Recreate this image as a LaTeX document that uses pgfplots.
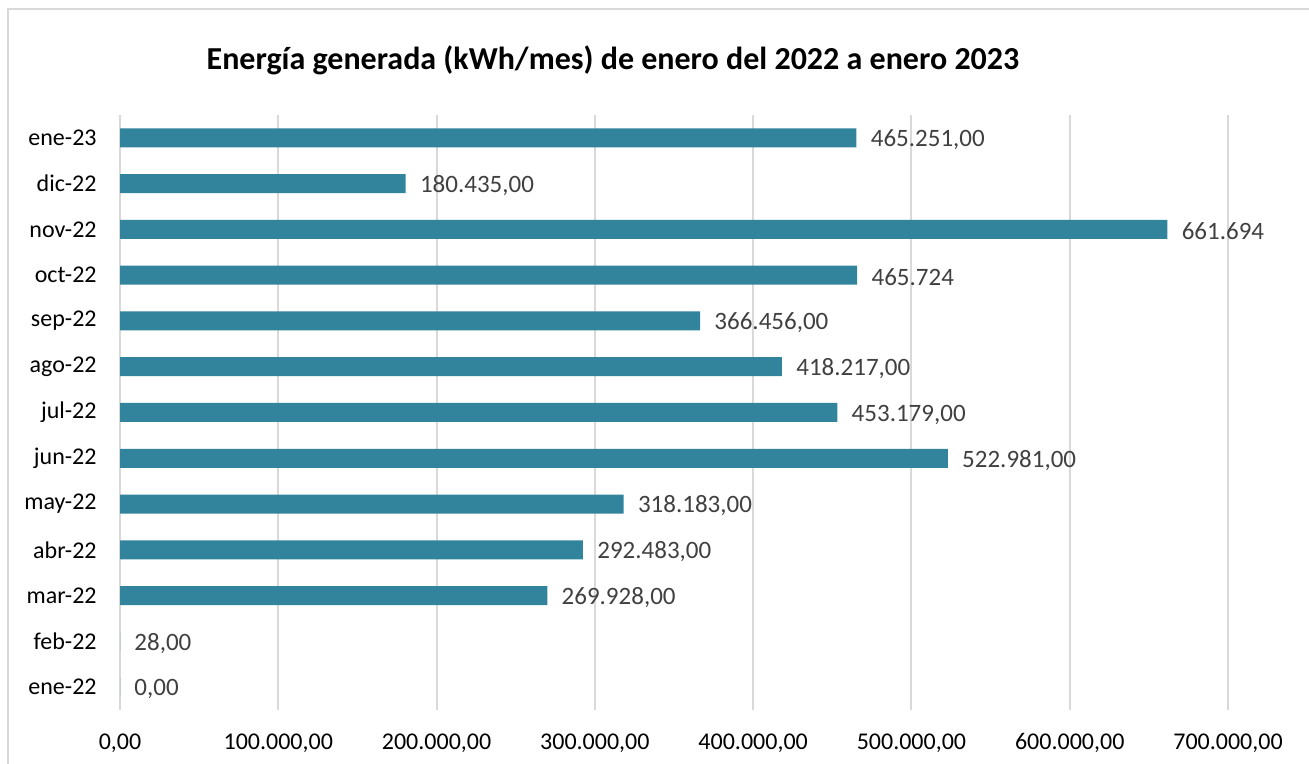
\documentclass[border=0pt]{standalone}
\usepackage{fontspec}
\setmainfont{Carlito}
\usepackage{pgfplots}
\pgfplotsset{compat=1.18}
\definecolor{barc}{HTML}{31849B}
\definecolor{gridc}{HTML}{D9D9D9}
\definecolor{lblc}{HTML}{404040}
\pgfplotstableread{
x y label
0 0 0,00
28 1 28,00
269928 2 269.928,00
292483 3 292.483,00
318183 4 318.183,00
522981 5 522.981,00
453179 6 453.179,00
418217 7 418.217,00
366456 8 366.456,00
465724 9 465.724
661694 10 661.694
180435 11 180.435,00
465251 12 465.251,00
}\datatab
\begin{document}
\begin{tikzpicture}[x=0.5pt,y=0.5pt]
\path[use as bounding box] (0,0) rectangle (1309,764);
\begin{scope}
\clip (0,0) rectangle (1309,764);
\draw[gridc, line width=1pt] (7.5,-20) rectangle (1330,755);
\end{scope}
\node[font=\bfseries\fontsize{16}{19}\selectfont, text=black] at (613,704) {Energía generada (kWh/mes) de enero del 2022 a enero 2023};
\begin{axis}[
  at={(60pt,27pt)}, anchor=south west, scale only axis,
  width=554pt, height=297.5pt,
  xmin=0, xmax=700000, ymin=-0.5, ymax=12.5,
  xbar, bar width=9.5pt,
  ytick={0,...,12},
  yticklabels={ene-22,feb-22,mar-22,abr-22,may-22,jun-22,jul-22,ago-22,sep-22,oct-22,nov-22,dic-22,ene-23},
  xtick={0,100000,200000,300000,400000,500000,600000,700000},
  xticklabels={{0,00},{100.000,00},{200.000,00},{300.000,00},{400.000,00},{500.000,00},{600.000,00},{700.000,00}},
  scaled x ticks=false,
  xmajorgrids, major grid style={gridc, line width=1pt},
  axis line style={draw=none}, major tick length=0pt, tick style={draw=none},
  yticklabel style={font=\fontsize{12}{14}\selectfont, text=black, anchor=east, inner sep=0pt, xshift=-11.5pt},
  xticklabel style={font=\fontsize{12}{14}\selectfont, text=black, anchor=base, inner sep=0pt, yshift=-20pt},
  nodes near coords, point meta=explicit symbolic,
  nodes near coords style={font=\fontsize{12.5}{14}\selectfont, text=lblc, anchor=west, inner sep=0pt, xshift=7pt, yshift=-1pt},
  clip=false,
]
\addplot[fill=barc, draw=none] table[x=x, y=y, meta=label] {\datatab};
\end{axis}
\end{tikzpicture}
\end{document}
